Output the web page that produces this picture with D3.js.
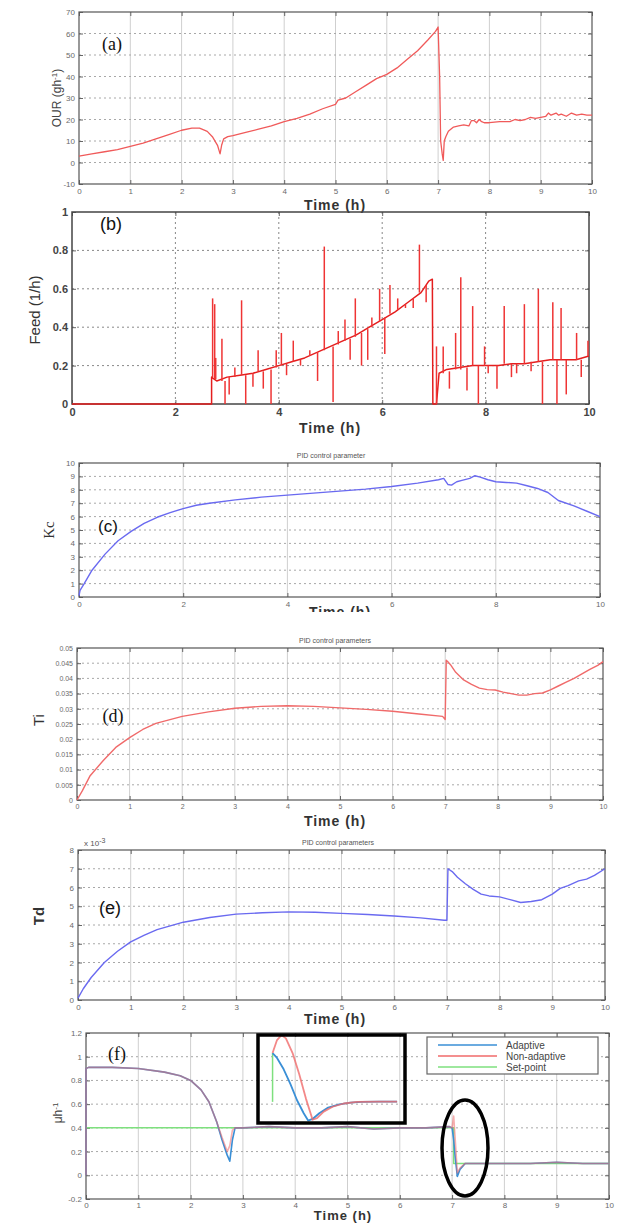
<!DOCTYPE html>
<html><head><meta charset="utf-8">
<script src="https://cdn.jsdelivr.net/npm/d3@7"></script>
<style>body{margin:0;background:#fff}svg{display:block}</style>
</head><body>
<svg id="c" width="617" height="1223"></svg>
<script>
// ---------- DATA ----------
const timeTicks1 = [0,1,2,3,4,5,6,7,8,9,10];
const timeTicks2 = [0,2,4,6,8,10];

// (a) OUR
const ourT = [0,0.25,0.5,0.75,1,1.25,1.5,1.75,2,2.2,2.35,2.5,2.6,2.7,2.75,2.78,2.82,2.9,3,3.25,3.5,3.75,4,4.25,4.5,4.75,5,5.05,5.2,5.4,5.6,5.8,6,6.2,6.4,6.6,6.8,6.95,7.0,7.03,7.05,7.08,7.1,7.12,7.15,7.2,7.3,7.4,7.5,7.6,7.65,7.7,7.75,7.8,7.85,7.9,8,8.2,8.4,8.5,8.6,8.7,8.8,8.9,9,9.1,9.15,9.2,9.3,9.35,9.4,9.5,9.6,9.7,9.8,9.9,10];
const ourV = [3,4,5,6,7.5,9,11,13,15,16,16,14.5,12,8,4,8,11,12,12.5,14,15.5,17,19,20.5,22.5,25,27,29,30,33,36,39,41,44,48,52,57,61,63,40,10,4,1,10,12,14.5,16.5,17,17.5,17,19.5,19.5,18.5,20,19,18.5,18.5,19,19,20,19.5,20,21,20.5,21,21.5,23,22,23,22,22.5,21.5,23,22,22.5,22,22];
const ourTicks = [-10,0,10,20,30,40,50,60,70];

// (b) Feed: base line and spikes (time, base value, tip value)
const feedT = [0,2.7,2.7,2.75,2.8,3,3.25,3.5,3.75,4,4.25,4.5,4.75,5,5.25,5.5,5.75,6,6.25,6.5,6.75,6.8,6.9,6.97,6.98,7.05,7.1,7.25,7.5,7.75,8,8.25,8.5,8.75,9,9.25,9.5,9.75,10];
const feedV = [0,0,0.14,0.13,0.12,0.14,0.15,0.16,0.18,0.2,0.22,0.24,0.27,0.3,0.33,0.36,0.4,0.44,0.48,0.53,0.58,0.6,0.64,0.65,0,0,0.16,0.18,0.19,0.2,0.2,0.2,0.21,0.21,0.22,0.23,0.23,0.23,0.25];
const spikeT    = [2.72,2.76,2.78,2.9,2.96,3.04,3.15,3.28,3.36,3.5,3.6,3.7,3.85,3.95,4.05,4.15,4.28,4.42,4.6,4.75,4.88,5.05,5.15,5.28,5.38,5.48,5.6,5.72,5.8,5.95,6.05,6.15,6.3,6.45,6.6,6.72,6.85,7.05,7.18,7.3,7.42,7.52,7.64,7.75,7.86,7.98,8.05,8.22,8.36,8.5,8.6,8.75,8.88,9.02,9.1,9.3,9.38,9.46,9.56,9.76,9.85,9.98];
const spikeFrom = [0.14,0.13,0.13,0.12,0.12,0.14,0.14,0.15,0.15,0.16,0.17,0.17,0.18,0.19,0.2,0.21,0.22,0.23,0.25,0.27,0.28,0.3,0.31,0.33,0.34,0.35,0.37,0.39,0.4,0.43,0.45,0.47,0.49,0.52,0.55,0.58,0.62,0,0.16,0.17,0.18,0.18,0.19,0.2,0.2,0.2,0.2,0.2,0.21,0.21,0.21,0.21,0.22,0.22,0.22,0.23,0.23,0.23,0.23,0.23,0.23,0.25];
const spikeTo   = [0.55,0.52,0.24,0.34,0,0.05,0.19,0.54,0,0.09,0.28,0.08,0,0.28,0.37,0.15,0.33,0.2,0.28,0.12,0.82,0.01,0.38,0.44,0.23,0.55,0.2,0.23,0.45,0.6,0.26,0.62,0.55,0.5,0.5,0.83,0.53,0.3,0.3,0.08,0.37,0.66,0.07,0.51,0,0.3,0.16,0.08,0.51,0.14,0.16,0.52,0.17,0.6,0,0.53,0,0.5,0.05,0.37,0.14,0.33];
const feedTicks = [0,0.2,0.4,0.6,0.8,1];

// (c) Kc
const kcT = [0,0.02,0.1,0.25,0.5,0.75,1,1.25,1.5,1.75,2,2.25,2.5,3,3.5,4,4.5,5,5.5,6,6.5,6.9,7.0,7.08,7.15,7.25,7.35,7.5,7.6,7.7,7.85,8,8.2,8.4,8.6,8.8,9,9.2,9.5,9.75,10];
const kcV = [0.1,0.5,1.0,2.0,3.2,4.2,4.9,5.5,5.95,6.3,6.6,6.85,7.0,7.25,7.45,7.6,7.75,7.9,8.05,8.25,8.5,8.75,8.85,8.4,8.35,8.6,8.7,8.85,9.05,8.95,8.75,8.6,8.55,8.5,8.3,8.1,7.8,7.2,6.8,6.4,6.0];
const kcTicks = [0,1,2,3,4,5,6,7,8,9,10];

// (d) Ti
const tiT = [0,0.1,0.25,0.5,0.75,1,1.25,1.5,2,2.5,3,3.5,4,4.5,5,5.5,6,6.5,6.95,7.0,7.02,7.05,7.1,7.2,7.35,7.5,7.65,7.8,7.95,8.1,8.25,8.4,8.55,8.7,8.85,9,9.15,9.3,9.45,9.6,9.75,9.9,10];
const tiV = [0,0.003,0.008,0.013,0.0175,0.0205,0.0232,0.0252,0.0275,0.029,0.0302,0.0308,0.031,0.0308,0.0303,0.0298,0.0292,0.0283,0.0275,0.0265,0.046,0.0455,0.0445,0.042,0.0395,0.038,0.0368,0.0363,0.0362,0.0355,0.035,0.0345,0.0345,0.035,0.0352,0.0362,0.0375,0.0388,0.04,0.0415,0.043,0.0443,0.0455];
const tiTicks = [0,0.005,0.01,0.015,0.02,0.025,0.03,0.035,0.04,0.045,0.05];

// (e) Td (x 10^-3)
const tdT = [0,0.1,0.25,0.5,0.75,1,1.25,1.5,2,2.5,3,3.5,4,4.5,5,5.5,6,6.5,6.95,7.0,7.02,7.1,7.2,7.35,7.5,7.65,7.8,8,8.2,8.4,8.6,8.8,9,9.15,9.3,9.5,9.65,9.8,10];
const tdV = [0.1,0.6,1.2,2.0,2.6,3.1,3.45,3.75,4.15,4.4,4.58,4.65,4.7,4.68,4.62,4.56,4.48,4.38,4.25,4.25,7.0,6.85,6.55,6.2,5.9,5.65,5.55,5.5,5.35,5.2,5.25,5.35,5.65,5.95,6.1,6.35,6.45,6.65,7.0];
const tdTicks = [0,1,2,3,4,5,6,7,8];

// (f) specific growth rate
const muT        = [0,0,0.05,0.5,1,1.5,1.8,2,2.2,2.35,2.5,2.6,2.7,2.75,2.8,2.85,3,3.5,4,4.5,5,5.5,6,6.5,6.95,7.0,7.03,7.06,7.1,7.15,7.25,7.5,8,8.5,9,9.5,10];
const muAdaptive = [0,0.9,0.91,0.91,0.9,0.87,0.84,0.8,0.72,0.62,0.45,0.3,0.17,0.12,0.3,0.4,0.4,0.41,0.4,0.4,0.41,0.39,0.4,0.4,0.41,0.4,0.3,0.15,-0.01,0.05,0.1,0.1,0.1,0.1,0.11,0.1,0.1];
const muNonAdapt = [0,0.9,0.91,0.91,0.9,0.87,0.84,0.8,0.72,0.62,0.45,0.32,0.2,0.25,0.38,0.4,0.4,0.41,0.4,0.4,0.41,0.39,0.4,0.4,0.41,0.4,0.5,0.3,0.02,0.06,0.1,0.1,0.1,0.1,0.11,0.1,0.1];
const spT = [0,7.03,7.03,10];
const spV = [0.4,0.4,0.1,0.1];
const muTicks = [-0.2,0,0.2,0.4,0.6,0.8,1,1.2];
// inset (zoom of the change at t = 7 h)
const insAdT = [7.0,7.02,7.05,7.08,7.11,7.14,7.16,7.18,7.21,7.25,7.3,7.35,7.4,7.48,7.56];
const insAdV = [0.4,0.37,0.3,0.21,0.11,0.03,-0.015,-0.005,0.03,0.065,0.085,0.095,0.1,0.102,0.102];
const insNaT = [7.0,7.02,7.04,7.06,7.09,7.12,7.15,7.18,7.2,7.23,7.27,7.32,7.38,7.48,7.56];
const insNaV = [0.4,0.48,0.51,0.49,0.4,0.27,0.12,-0.01,0.0,0.04,0.07,0.09,0.1,0.102,0.102];
const insSpT = [7.0,7.0];
const insSpV = [0.4,0.1];
const legendLabels = ["Adaptive","Non-adaptive","Set-point"];

// ---------- DRAW ----------
const svg = d3.select("#c");
const SANS = "'Liberation Sans', Arial, sans-serif";
const SERIF = "'Liberation Serif', 'Times New Roman', serif";

function panel(o){
  const g = svg.append("g");
  const x = d3.scaleLinear().domain([0,10]).range([o.L,o.R]);
  const y = d3.scaleLinear().domain(o.yd).range([o.B,o.T]);
  o.xt.forEach(t=>{
    if(t===0||t===10) return;
    g.append("line").attr("x1",x(t)).attr("x2",x(t)).attr("y1",o.T).attr("y2",o.B)
     .attr("stroke",o.vgColor||"#cfcfcf").attr("stroke-width",1)
     .attr("stroke-dasharray",o.vgDash||null);
  });
  o.yt.forEach(v=>{
    if(v===o.yd[0]||v===o.yd[1]) return;
    g.append("line").attr("x1",o.L).attr("x2",o.R).attr("y1",y(v)).attr("y2",y(v))
     .attr("stroke",o.hgColor||"#a8a8a8").attr("stroke-width",1).attr("stroke-dasharray","2,3");
  });
  const fs = o.tickFs||8, tc = o.tickColor||"#6a6a6a";
  const ax = (gen, tr, lab) => {
    const a = g.append("g").attr("transform",tr).call(gen);
    a.select(".domain").remove();
    a.selectAll(".tick line").attr("stroke","#666");
    a.selectAll("text").attr("fill",tc).attr("font-size",fs).attr("font-family",SANS)
      .attr("font-weight",o.tickW||"normal");
    if(!lab) a.selectAll("text").remove();
    return a;
  };
  ax(d3.axisBottom(x).tickValues(o.xt).tickSize(-4).tickPadding(o.xPad||4), `translate(0,${o.B})`, true);
  ax(d3.axisTop(x).tickValues(o.xt).tickSize(-4), `translate(0,${o.T})`, false);
  ax(d3.axisLeft(y).tickValues(o.yt).tickSize(-4).tickPadding(4).tickFormat(o.yfmt||(d=>d)), `translate(${o.L},0)`, true);
  ax(d3.axisRight(y).tickValues(o.yt).tickSize(-4), `translate(${o.R},0)`, false);
  g.append("rect").attr("x",o.L).attr("y",o.T).attr("width",o.R-o.L).attr("height",o.B-o.T)
   .attr("fill","none").attr("stroke",o.frame||"#555").attr("stroke-width",o.frameW||1.2);
  return {g,x,y};
}

function line(g,x,y,T,V,color,w,op){
  const pts = T.map((t,i)=>[t,V[i]]);
  g.append("path").datum(pts)
   .attr("d",d3.line().x(d=>x(d[0])).y(d=>y(d[1])))
   .attr("fill","none").attr("stroke",color).attr("stroke-width",w||1.2)
   .attr("stroke-linejoin","round").attr("opacity",op==null?1:op);
}
function text(tx,ty,str,opt){
  const t = svg.append("text").attr("x",tx).attr("y",ty).text(str)
    .attr("font-family",opt.ff||SANS).attr("font-size",opt.fs||12)
    .attr("fill",opt.fill||"#222").attr("font-weight",opt.fw||"normal")
    .attr("text-anchor",opt.anchor||"middle");
  if(opt.rot) t.attr("transform",`rotate(-90,${tx},${ty})`);
  if(opt.ls) t.attr("letter-spacing",opt.ls);
  return t;
}
function timeLabel(cx,cy,fs){ return text(cx,cy,"Time (h)",{fs:fs||14,fw:"bold",fill:"#333",ls:1}); }

// (a)
{
  const p = panel({L:79,R:592,T:12,B:184,yd:[-10,70],xt:timeTicks1,yt:ourTicks});
  line(p.g,p.x,p.y,ourT,ourV,"#f05a5a",1.3);
  text(112,50,"(a)",{ff:SERIF,fs:18,fill:"#111"});
  const yl = text(61,98,"OUR (gh",{fs:12,fill:"#444",rot:true});
  yl.append("tspan").attr("baseline-shift","super").attr("font-size",8).text("-1");
  yl.append("tspan").text(")");
  timeLabel(335,210);
}
// (b)
{
  const p = panel({L:72,R:589,T:212,B:404,yd:[0,1],xt:timeTicks2,yt:feedTicks,
    vgColor:"#888",vgDash:"2,3",hgColor:"#888",tickFs:11,tickColor:"#444",tickW:"bold",frame:"#444",frameW:1.5});
  const g=p.g,x=p.x,y=p.y;
  line(g,x,y,feedT,feedV,"#e41e1e",1.5);
  spikeT.forEach((t,i)=>{
    g.append("line").attr("x1",x(t)).attr("x2",x(t)).attr("y1",y(spikeFrom[i])).attr("y2",y(spikeTo[i]))
     .attr("stroke","#ef3434").attr("stroke-width",1.5);
  });
  text(111,230,"(b)",{ff:SANS,fs:18,fill:"#111"});
  text(40,310,"Feed (1/h)",{fs:15,fill:"#333",rot:true});
  timeLabel(330,433);
}
// (c)
{
  const p = panel({L:79,R:600,T:463,B:597,yd:[0,10],xt:timeTicks2,yt:kcTicks});
  line(p.g,p.x,p.y,kcT,kcV,"#6a6af0",1.4);
  text(331,458,"PID control parameter",{fs:7,fill:"#555"});
  text(108,532,"(c)",{ff:SANS,fs:17,fill:"#111"});
  text(54,530,"Kc",{fs:15,fill:"#333",rot:true,ff:SERIF});
  svg.append("clipPath").attr("id","cc").append("rect").attr("x",0).attr("y",598).attr("width",617).attr("height",14);
  timeLabel(340,617).attr("clip-path","url(#cc)");
}
// (d)
{
  const p = panel({L:77,R:603,T:648,B:800,yd:[0,0.05],xt:timeTicks1,yt:tiTicks,tickFs:7});
  line(p.g,p.x,p.y,tiT,tiV,"#f06a6a",1.4);
  text(335,643,"PID control parameters",{fs:7,fill:"#555"});
  text(113,722,"(d)",{ff:SERIF,fs:18,fill:"#111"});
  text(44,720,"Ti",{fs:15,fill:"#333",rot:true});
  timeLabel(335,826);
}
// (e)
{
  const p = panel({L:78,R:605,T:850,B:1000,yd:[0,8],xt:timeTicks1,yt:tdTicks});
  line(p.g,p.x,p.y,tdT,tdV,"#6a6af0",1.4);
  text(338,845,"PID control parameters",{fs:7,fill:"#555"});
  const xl = text(84,846,"x 10",{fs:8,fill:"#555",anchor:"start"});
  xl.append("tspan").attr("baseline-shift","super").attr("font-size",7).text("-3");
  text(110,914,"(e)",{ff:SANS,fs:18,fill:"#111"});
  text(44,916,"Td",{fs:15,fw:"bold",fill:"#333",rot:true});
  timeLabel(335,1024);
}
// (f)
{
  const p = panel({L:86,R:609,T:1033,B:1199,yd:[-0.2,1.2],xt:timeTicks1,yt:muTicks,xPad:3});
  const g=p.g,x=p.x,y=p.y;
  line(g,x,y,spT,spV,"#7ee07e",1.5);
  line(g,x,y,muT,muAdaptive,"#3a8fd6",1.6);
  line(g,x,y,muT,muNonAdapt,"#f06a6a",1.6,0.55);
  text(117,1060,"(f)",{ff:SERIF,fs:18,fill:"#111"});
  const yl = text(62,1113,"\u03bch",{fs:12,fill:"#444",rot:true});
  yl.append("tspan").attr("baseline-shift","super").attr("font-size",8).text("-1");
  timeLabel(343,1220,13);
  // inset
  const ix = d3.scaleLinear().domain([6.93,7.6]).range([257,406]);
  const iy = d3.scaleLinear().domain([-0.036,0.517]).range([1124,1034]);
  line(g,ix,iy,insSpT,insSpV,"#7ee07e",1.5);
  line(g,ix,iy,insAdT,insAdV,"#3a8fd6",1.8);
  line(g,ix,iy,insNaT,insNaV,"#f06a6a",1.8,0.8);
  g.append("rect").attr("x",258).attr("y",1035).attr("width",147).attr("height",88)
   .attr("fill","none").attr("stroke","#000").attr("stroke-width",3.5);
  g.append("ellipse").attr("cx",465).attr("cy",1148).attr("rx",23).attr("ry",48)
   .attr("fill","none").attr("stroke","#000").attr("stroke-width",3.5);
  const lg = g.append("g");
  lg.append("rect").attr("x",427).attr("y",1037).attr("width",171).attr("height",37)
    .attr("fill","#fff").attr("stroke","#666").attr("stroke-width",1.2);
  const cols = ["#3a8fd6","#f06a6a","#7ee07e"];
  legendLabels.forEach((s,i)=>{
    const yy = 1045 + i*11;
    lg.append("line").attr("x1",438).attr("x2",497).attr("y1",yy).attr("y2",yy)
      .attr("stroke",cols[i]).attr("stroke-width",1.6);
    lg.append("text").attr("x",506).attr("y",yy+3.5).text(s).attr("font-family",SANS)
      .attr("font-size",10).attr("fill","#444");
  });
}
</script>
</body></html>
